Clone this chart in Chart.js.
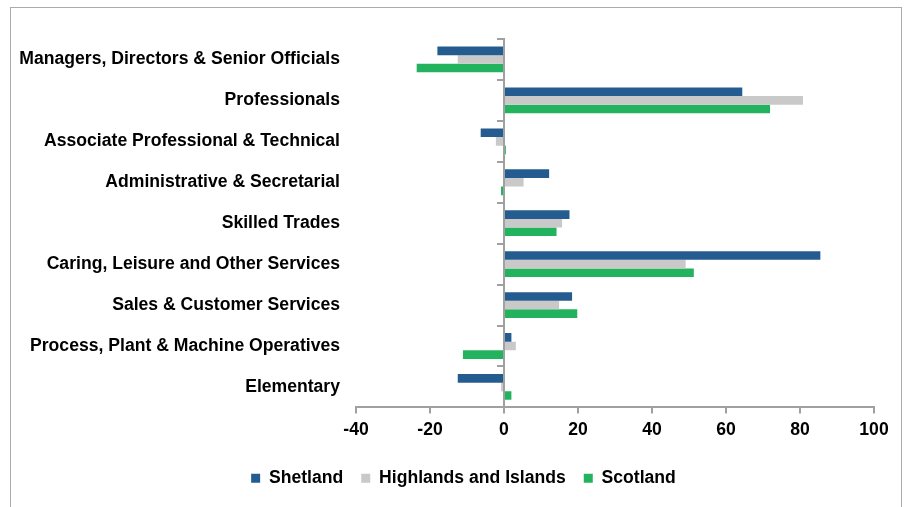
<!DOCTYPE html>
<html>
<head>
<meta charset="utf-8">
<script src="https://cdn.jsdelivr.net/npm/chart.js@4/dist/chart.umd.min.js"></script>
<style>
  html, body { margin: 0; padding: 0; background: #ffffff; }
  #wrap { position: relative; width: 911px; height: 507px; overflow: hidden; }
  #frame { position: absolute; left: 10px; top: 7px; width: 892px; height: 520px; border: 1px solid #ababab; box-sizing: border-box; }
  canvas { position: absolute; left: 0; top: 0; }
</style>
</head>
<body>
<div id="wrap">
  <div id="frame"></div>
  <canvas id="c" width="911" height="507"></canvas>
</div>
<script>
const categories = [
  'Managers, Directors & Senior Officials',
  'Professionals',
  'Associate Professional & Technical',
  'Administrative & Secretarial',
  'Skilled Trades',
  'Caring, Leisure and Other Services',
  'Sales & Customer Services',
  'Process, Plant & Machine Operatives',
  'Elementary'
];
const shetland  = [-18.0, 64.4, -6.3, 12.2, 17.7, 85.5, 18.4, 2.0, -12.5];
const highlands = [-12.5, 80.8, -2.2, 5.3, 15.7, 49.1, 14.9, 3.2, -0.8];
const scotland  = [-23.6, 71.9, 0.5, -0.8, 14.2, 51.3, 19.8, -11.1, 2.0];
const seriesNames = ['Shetland', 'Highlands and Islands', 'Scotland'];
const xTicks = [-40, -20, 0, 20, 40, 60, 80, 100];

const boldFont = { family: 'Liberation Sans, Arial, sans-serif', size: 17.6, weight: 'bold' };
const axisGrey = '#a0a0a0';

new Chart(document.getElementById('c'), {
  type: 'bar',
  data: {
    labels: categories,
    datasets: [
      { label: seriesNames[0], data: shetland,  backgroundColor: '#245C90', borderWidth: 0 },
      { label: seriesNames[1], data: highlands, backgroundColor: '#C9C9C9', borderWidth: 0 },
      { label: seriesNames[2], data: scotland,  backgroundColor: '#23B35F', borderWidth: 0 }
    ]
  },
  options: {
    indexAxis: 'y',
    responsive: false,
    animation: false,
    devicePixelRatio: 1,
    categoryPercentage: 0.63,
    barPercentage: 1.0,
    layout: { padding: { left: 10, right: -6, top: 39, bottom: 10 } },
    plugins: {
      tooltip: { enabled: false },
      legend: {
        position: 'bottom',
        labels: {
          font: boldFont,
          color: '#000000',
          boxWidth: 9,
          boxHeight: 9,
          padding: 18
        }
      }
    },
    scales: {
      x: {
        type: 'linear',
        min: xTicks[0],
        max: xTicks[xTicks.length - 1],
        afterBuildTicks: (scale) => { scale.ticks = xTicks.map(v => ({ value: v })); },
        afterFit: (scale) => { scale.height = 44; },
        border: { display: true, color: axisGrey, width: 2 },
        grid: { display: true, drawOnChartArea: false, drawTicks: true, tickLength: 6, tickColor: axisGrey, lineWidth: 2 },
        ticks: { font: boldFont, color: '#000000', padding: 6, maxRotation: 0 }
      },
      y: {
        type: 'category',
        position: { x: 0 },
        offset: true,
        border: { display: true, color: axisGrey, width: 2 },
        grid: { display: true, offset: true, drawOnChartArea: false, drawTicks: true, tickLength: 6, tickColor: axisGrey, lineWidth: 2 },
        ticks: { display: false }
      },
      yl: {
        type: 'category',
        axis: 'y',
        position: 'left',
        offset: true,
        afterFit: (scale) => { scale.width = 346; },
        border: { display: false },
        grid: { display: false },
        ticks: { font: boldFont, color: '#000000', padding: 8, autoSkip: false }
      },
      yr: {
        type: 'category',
        axis: 'y',
        position: 'right',
        offset: true,
        afterFit: (scale) => { scale.width = 43; },
        border: { display: false },
        grid: { display: false },
        ticks: { display: false }
      }
    }
  }
});
</script>
</body>
</html>
